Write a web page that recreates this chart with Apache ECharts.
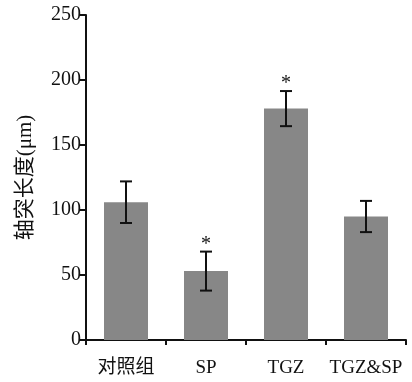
<!DOCTYPE html>
<html><head><meta charset="utf-8">
<script src="https://cdn.jsdelivr.net/npm/echarts@6/dist/echarts.min.js"></script>
<style>html,body{margin:0;padding:0;background:#fff}#c{width:412px;height:382px}</style>
</head><body><div id="c"></div>
<script>
var categories = ['对照组', 'SP', 'TGZ', 'TGZ&SP'];
var means = [106, 53, 178, 95];
var errors = [16, 15, 13.5, 12];
var marks = ['', '*', '*', ''];
var yTicks = [0, 50, 100, 150, 200, 250];

var FONT = '"Liberation Serif", "Noto Sans CJK SC", serif';
var chart = echarts.init(document.getElementById('c'));
var errData = means.map(function (m, i) { return [i, m - errors[i], m + errors[i], marks[i]]; });

chart.setOption({
  animation: false,
  grid: { left: 86, right: 6, top: 15, bottom: 42 },
  xAxis: {
    type: 'category', data: categories,
    axisLine: { lineStyle: { color: '#111', width: 2 } },
    axisTick: { show: true, length: 5, alignWithLabel: false, lineStyle: { color: '#111', width: 2 } },
    axisLabel: { color: '#111', fontFamily: FONT, fontSize: 19, margin: 19, interval: 0 }
  },
  yAxis: {
    type: 'value', min: yTicks[0], max: yTicks[yTicks.length - 1], interval: 50,
    name: '轴突长度(μm)', nameLocation: 'middle', nameGap: 50, nameRotate: 90,
    nameTextStyle: { color: '#111', fontFamily: FONT, fontSize: 21 },
    axisLine: { show: true, lineStyle: { color: '#111', width: 2 } },
    axisTick: { show: true, length: 7, lineStyle: { color: '#111', width: 2 } },
    axisLabel: { color: '#111', fontFamily: FONT, fontSize: 20, margin: 5 },
    splitLine: { show: false }
  },
  series: [
    {
      type: 'bar', data: means, barWidth: 44,
      itemStyle: { color: '#878787' }
    },
    {
      type: 'custom', data: errData, z: 10,
      renderItem: function (params, api) {
        var x = api.value(0);
        var lo = api.coord([x, api.value(1)]);
        var hi = api.coord([x, api.value(2)]);
        var cw = 6;
        var style = { stroke: '#111', lineWidth: 2 };
        var children = [
          { type: 'line', shape: { x1: lo[0], y1: lo[1], x2: hi[0], y2: hi[1] }, style: style },
          { type: 'line', shape: { x1: lo[0] - cw, y1: lo[1], x2: lo[0] + cw, y2: lo[1] }, style: style },
          { type: 'line', shape: { x1: hi[0] - cw, y1: hi[1], x2: hi[0] + cw, y2: hi[1] }, style: style }
        ];
        var m = api.value(3);
        if (m && m !== '-') {
          children.push({ type: 'text', style: { text: m, x: hi[0], y: hi[1] + 3, align: 'center', verticalAlign: 'bottom', fill: '#111', font: '20px ' + FONT } });
        }
        return { type: 'group', children: children };
      }
    }
  ]
});
</script></body></html>
